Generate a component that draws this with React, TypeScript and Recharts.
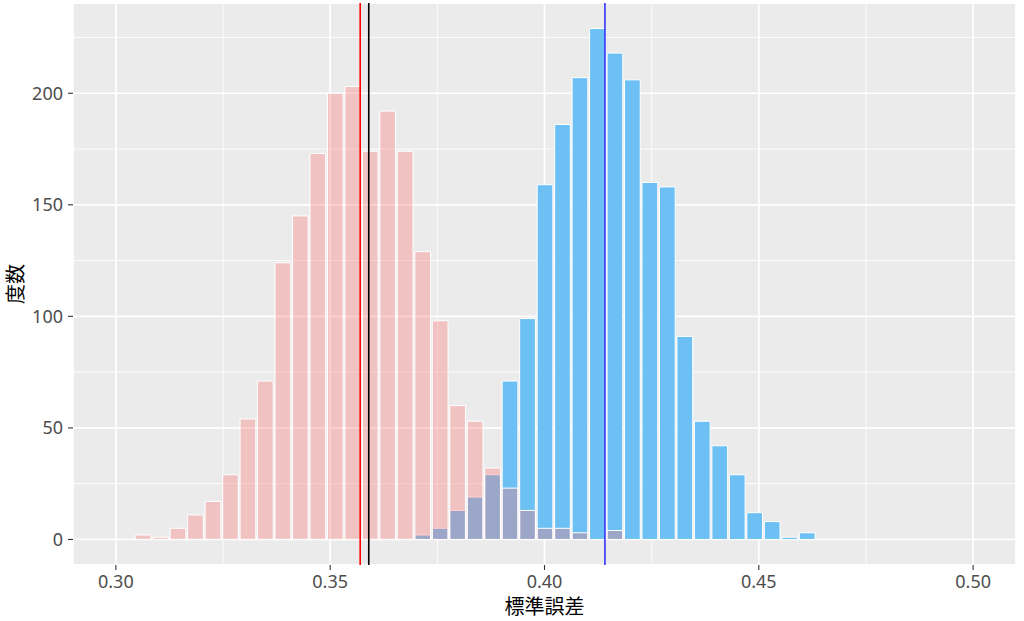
import {
  ComposedChart,
  Bar,
  XAxis,
  YAxis,
  CartesianGrid,
  ReferenceLine,
} from 'recharts'

// bin centres of the histogram (bin width ~0.00408)
const BIN_CENTERS = [
  0.30631, 0.31039, 0.31447, 0.31855, 0.32262, 0.3267, 0.33078, 0.33485, 0.33893, 0.34301,
  0.34709, 0.35116, 0.35524, 0.35932, 0.36339, 0.36747, 0.37155, 0.37563, 0.3797, 0.38378,
  0.38786, 0.39193, 0.39601, 0.40009, 0.40417, 0.40824, 0.41232, 0.4164, 0.42047, 0.42455,
  0.42863, 0.43271, 0.43678, 0.44086, 0.44494, 0.44901, 0.45309, 0.45717, 0.46125,
]

const PINK_COUNTS = [
  2, 1, 5, 11, 17, 29, 54, 71, 124, 145,
  173, 200, 203, 174, 192, 174, 129, 98, 60, 53,
  32, 23, 13, 5, 5, 3, 0, 4, 0, 0,
  0, 0, 0, 0, 0, 0, 0, 0, 0,
]

const BLUE_COUNTS = [
  0, 0, 0, 0, 0, 0, 0, 0, 0, 0,
  0, 0, 0, 0, 0, 0, 2, 5, 13, 19,
  29, 71, 99, 159, 186, 207, 229, 218, 206, 160,
  158, 91, 53, 42, 29, 12, 8, 1, 3,
]

const X_TICKS = [0.3, 0.35, 0.4, 0.45, 0.5]
const X_MINOR = [0.325, 0.375, 0.425, 0.475]
const Y_TICKS = [0, 50, 100, 150, 200]
const Y_MINOR = [25, 75, 125, 175, 225]

const MEAN_RED = 0.357
const MEAN_BLACK = 0.359
const MEAN_BLUE = 0.4141

const X_DOMAIN: [number, number] = [0.29, 0.51]
const Y_DOMAIN: [number, number] = [-11.45, 240.45]
const BIN_WIDTH = 0.004077

const W = 1024
const H = 621
const MARGIN = { top: 3, right: 8, bottom: 0, left: 0 }
const Y_AXIS_W = 73
const X_AXIS_H = 56
const PLOT_W = W - MARGIN.left - MARGIN.right - Y_AXIS_W
const BAR_PX = (PLOT_W * BIN_WIDTH) / (X_DOMAIN[1] - X_DOMAIN[0])

const data = BIN_CENTERS.map((x, i) => ({
  x,
  pink: PINK_COUNTS[i],
  blue: BLUE_COUNTS[i],
}))

const tickStyle = { fontSize: 18, fill: '#4D4D4D', fontFamily: '"Noto Sans", sans-serif' }

function XTitle({ viewBox }: { viewBox?: any }) {
  if (!viewBox) return null
  return (
    <text
      x={viewBox.x + viewBox.width / 2}
      y={viewBox.y + viewBox.height - 7}
      textAnchor="middle"
      fontSize={20}
      fontFamily='"Noto Sans CJK JP", sans-serif'
      fill="#000"
    >
      標準誤差
    </text>
  )
}

function YTitle({ viewBox }: { viewBox?: any }) {
  if (!viewBox) return null
  const cx = viewBox.x + 14
  const cy = viewBox.y + viewBox.height / 2
  return (
    <text
      x={cx}
      y={cy}
      transform={`rotate(-90, ${cx}, ${cy})`}
      textAnchor="middle"
      dominantBaseline="central"
      fontSize={20}
      fontFamily='"Noto Sans CJK JP", sans-serif'
      fill="#000"
    >
      度数
    </text>
  )
}

export default function App() {
  return (
    <div style={{ position: 'absolute', left: 0, top: 0, background: '#fff' }}>
      <ComposedChart width={W} height={H} data={data} margin={MARGIN}>
        <CartesianGrid
          xAxisId="main"
          yAxisId="main"
          fill="#EBEBEB"
          fillOpacity={1}
          stroke="#FFFFFF"
          strokeWidth={1.7}
        />
        <CartesianGrid
          xAxisId="minorX"
          yAxisId="minorY"
          fill="none"
          stroke="#FFFFFF"
          strokeWidth={0.85}
        />
        <XAxis
          xAxisId="main"
          type="number"
          dataKey="x"
          domain={X_DOMAIN}
          ticks={X_TICKS}
          allowDataOverflow
          height={X_AXIS_H}
          tickFormatter={(v: number) => v.toFixed(2)}
          tick={tickStyle}
          axisLine={false}
          tickLine={{ stroke: '#333333', strokeWidth: 1.1 }}
          tickSize={5}
          tickMargin={5}
          label={<XTitle />}
        />
        <XAxis xAxisId="blue" type="number" dataKey="x" domain={X_DOMAIN} allowDataOverflow hide height={0} />
        <XAxis
          xAxisId="minorX"
          type="number"
          dataKey="x"
          domain={X_DOMAIN}
          ticks={X_MINOR}
          allowDataOverflow
          hide
          height={0}
        />
        <YAxis
          yAxisId="main"
          type="number"
          domain={Y_DOMAIN}
          ticks={Y_TICKS}
          allowDataOverflow
          width={Y_AXIS_W}
          tick={tickStyle}
          axisLine={false}
          tickLine={{ stroke: '#333333', strokeWidth: 1.1 }}
          tickSize={5}
          tickMargin={5}
          label={<YTitle />}
        />
        <YAxis
          yAxisId="minorY"
          type="number"
          domain={Y_DOMAIN}
          ticks={Y_MINOR}
          allowDataOverflow
          hide
          width={0}
        />
        <Bar
          xAxisId="blue"
          yAxisId="main"
          dataKey="blue"
          fill="#6CC0F4"
          stroke="#FFFFFF"
          strokeWidth={1}
          barSize={BAR_PX}
          isAnimationActive={false}
        />
        <Bar
          xAxisId="main"
          yAxisId="main"
          dataKey="pink"
          fill="#FF7070"
          fillOpacity={0.33}
          stroke="#FFFFFF"
          strokeWidth={1}
          barSize={BAR_PX}
          isAnimationActive={false}
        />
        <ReferenceLine xAxisId="main" yAxisId="main" x={MEAN_RED} stroke="#FF0000" strokeWidth={1.6} />
        <ReferenceLine xAxisId="main" yAxisId="main" x={MEAN_BLACK} stroke="#000000" strokeWidth={1.6} />
        <ReferenceLine xAxisId="main" yAxisId="main" x={MEAN_BLUE} stroke="#3333FF" strokeWidth={1.6} />
      </ComposedChart>
    </div>
  )
}
